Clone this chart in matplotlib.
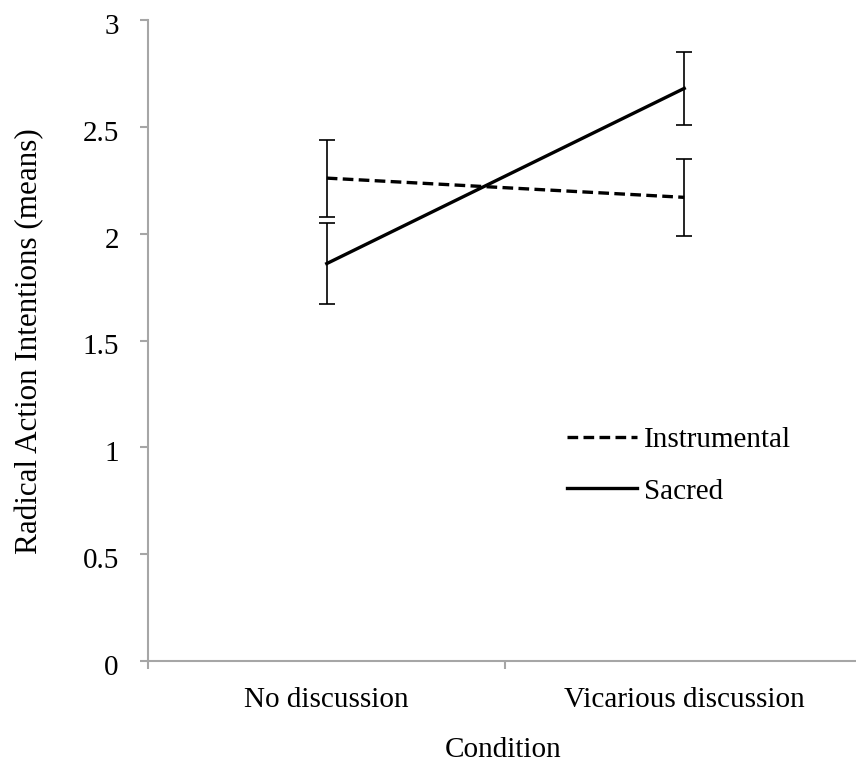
import matplotlib
matplotlib.use("Agg")
import matplotlib.pyplot as plt
from matplotlib.transforms import ScaledTranslation

# --- Data ---
conditions = ["No discussion", "Vicarious discussion"]
instrumental_means = [2.26, 2.17]
instrumental_err = [0.18, 0.18]
sacred_means = [1.86, 2.68]
sacred_err = [0.19, 0.17]
y_ticks = [0, 0.5, 1, 1.5, 2, 2.5, 3]
y_tick_labels = ["0", "0.5", "1", "1.5", "2", "2.5", "3"]

plt.rcParams["font.family"] = ["Liberation Serif", "DejaVu Serif"]
fs = 21
axis_grey = "#a6a6a6"

fig = plt.figure(figsize=(8.56, 7.65), dpi=100)
ax = fig.add_axes([148 / 856, 1 - 661 / 765, 715 / 856, 641 / 765])

x = [1, 2]

# --- Series ---
ax.errorbar(x, instrumental_means, yerr=instrumental_err, color="black",
            linewidth=2.4, dashes=(3.2, 1.6), ecolor="black", elinewidth=1.2,
            capsize=5.8, capthick=1.2, label="Instrumental")
ax.errorbar(x, sacred_means, yerr=sacred_err, color="black",
            linewidth=2.4, ecolor="black", elinewidth=1.2,
            capsize=5.8, capthick=1.2, label="Sacred")

# --- Axes styling ---
ax.set_xlim(0.5, 2.5)
ax.set_ylim(0, 3)
ax.spines["top"].set_visible(False)
ax.spines["right"].set_visible(False)
for side in ["left", "bottom"]:
    ax.spines[side].set_color(axis_grey)
    ax.spines[side].set_linewidth(1.5)
    ax.spines[side].set_clip_on(False)

ax.set_yticks(y_ticks)
ax.set_yticklabels(y_tick_labels, fontsize=fs)
ax.tick_params(axis="y", direction="out", length=6, width=1.5,
               color=axis_grey, pad=15)
# labels sit a little below their ticks in the original
shift = ScaledTranslation(0, -4 / 100, fig.dpi_scale_trans)
for lbl in ax.get_yticklabels():
    lbl.set_transform(lbl.get_transform() + shift)

ax.set_xticks([0.5, 1.5, 2.5])
ax.set_xticklabels([])
ax.set_xticks(x, minor=True)
ax.set_xticklabels(conditions, minor=True, fontsize=fs)
ax.tick_params(axis="x", which="major", direction="out", length=6,
               width=1.5, color=axis_grey)
ax.tick_params(axis="x", which="minor", length=0, pad=19)

fig.text(503 / 856, 1 - 750 / 765, "Condition", fontsize=fs,
         ha="center", va="center")
fig.text(30 / 856, 1 - 341 / 765, "Radical Action Intentions (means)",
         fontsize=22.4, rotation=90, ha="center", va="center")

# --- Legend (lines only, no error bars) ---
handles, labels = ax.get_legend_handles_labels()
handles = [h[0] for h in handles]
ax.legend(handles, labels, loc="upper left",
          bbox_to_anchor=(567 / 856, 1 - 427 / 765),
          bbox_transform=fig.transFigure, frameon=False, fontsize=fs,
          handlelength=2.4, handletextpad=0.25, labelspacing=0.85,
          borderpad=0, borderaxespad=0)

fig.savefig("out.png", dpi=100)
